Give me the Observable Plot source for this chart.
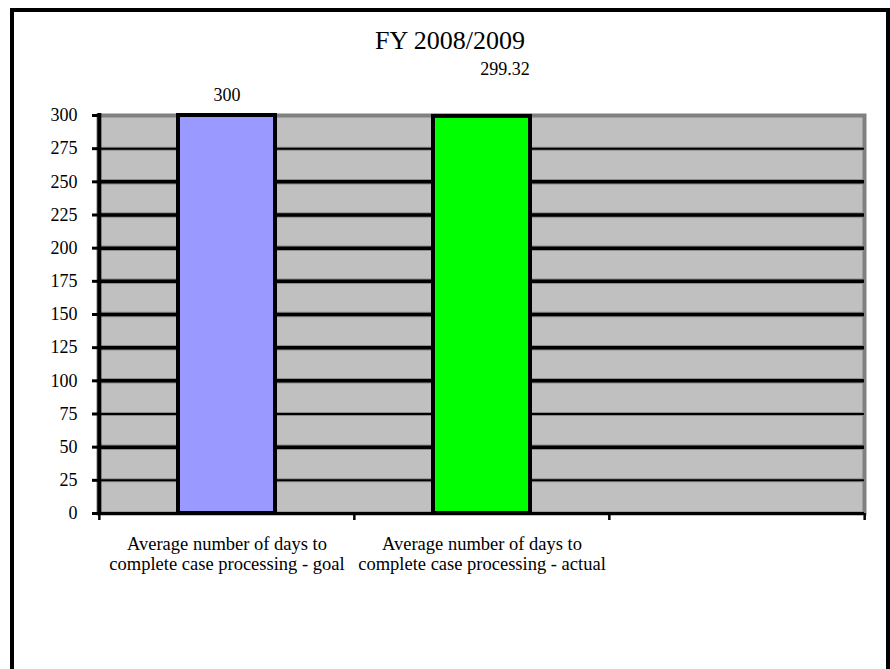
<!DOCTYPE html>
<html>
<head>
<meta charset="utf-8">
<script src="https://cdn.jsdelivr.net/npm/d3@7"></script>
<script src="https://cdn.jsdelivr.net/npm/@observablehq/plot@0.6"></script>
<style>
  html, body { margin: 0; padding: 0; background: #fff; overflow: hidden; }
  #chart { position: relative; width: 890px; height: 669px; font-family: "Liberation Serif", "Times New Roman", serif; color: #000; }
  #border { position: absolute; left: 10px; top: 8px; width: 880px; height: 700px; border: 4px solid #000; box-sizing: border-box; }
  #title { position: absolute; left: 10px; width: 880px; top: 28px; text-align: center; font-size: 26px; line-height: 26px; }
  #plot { position: absolute; left: 0; top: 60px; }
</style>
</head>
<body>
<div id="chart">
  <div id="plot"></div>
  <div id="border"></div>
  <div id="title">FY 2008/2009</div>
</div>
<script>
// Categories along the x axis (the third slot is left empty)
const categories = [
  "Average number of days to\ncomplete case processing - goal",
  "Average number of days to\ncomplete case processing - actual",
  ""
];
// Bar values and their printed labels
const values = [300, 299.32];
const valueLabels = ["300", "299.32"];
const barColors = ["#9999ff", "#00ff00"];
// Y axis tick values
const yTicks = [0, 25, 50, 75, 100, 125, 150, 175, 200, 225, 250, 275, 300];

const bars = values.map((v, i) => ({
  category: categories[i],
  value: v,
  label: valueLabels[i],
  color: barColors[i]
}));

const width = 890, height = 609;
const marginLeft = 98, marginRight = 26, marginTop = 55, marginBottom = 156;
const bw = (width - marginLeft - marginRight) / categories.length;

// Gridlines: a few drawn lighter than the rest
const thinRules = [25, 75, 275];
const gridValues = yTicks.filter(v => v > 0 && v < 300);
const font = "Liberation Serif";

const chart = Plot.plot({
  width, height, marginLeft, marginRight, marginTop, marginBottom,
  style: { fontFamily: font, fontSize: "18px", background: "transparent", overflow: "visible", color: "#000" },
  x: { domain: categories, padding: 0, axis: null, label: null },
  y: { domain: [0, 300], axis: null, label: null },
  color: { type: "identity" },
  marks: [
    Plot.frame({ fill: "#c0c0c0", stroke: "#808080", strokeWidth: 4 }),
    // gridline shading and gridlines
    Plot.ruleY(gridValues, { stroke: "#8c8c8c", strokeWidth: d => thinRules.includes(d) ? 4 : 5.5 }),
    Plot.ruleY(gridValues, { stroke: "#000", strokeWidth: d => thinRules.includes(d) ? 2 : 3.5 }),
    // axis lines
    Plot.ruleY([0], { stroke: "#000", strokeWidth: 3 }),
    Plot.ruleX([categories[0]], { x: d => d, dx: -bw / 2, y1: 0, y2: 300, stroke: "#000", strokeWidth: 4, strokeLinecap: "square" }),
    // bars
    Plot.barY(bars, {
      x: "category", y: "value", fill: "color",
      stroke: "#000", strokeWidth: 4,
      insetLeft: 79, insetRight: 79
    }),
    // value labels
    Plot.text(bars.slice(0, 1), { x: "category", y: "value", text: "label", dy: -20.5, fontSize: 18, fontFamily: font, fill: "#000" }),
    Plot.text(bars.slice(1, 2), { x: "category", y: "value", text: "label", dx: 23, dy: -47, fontSize: 18, fontFamily: font, fill: "#000" }),
    // y axis
    Plot.axisY({ ticks: yTicks, label: null, tickSize: 6, tickPadding: 15, strokeWidth: 3, fontSize: 18, fontFamily: font, fill: "#000", stroke: "#000" }),
    // x axis category labels
    Plot.axisX({ label: null, tickSize: 0, tickPadding: 22, fontSize: 18.5, fontFamily: font, lineHeight: 1.1, fill: "#000" }),
    // x axis ticks at category boundaries
    Plot.axisX({ label: null, tickSize: 7, dx: -bw / 2, tickFormat: () => "", strokeWidth: 2.5, stroke: "#000" }),
    Plot.axisX({ label: null, ticks: [categories[categories.length - 1]], tickSize: 7, dx: bw / 2, tickFormat: () => "", strokeWidth: 2.5, stroke: "#000" })
  ]
});

document.getElementById("plot").appendChild(chart);
</script>
</body>
</html>
